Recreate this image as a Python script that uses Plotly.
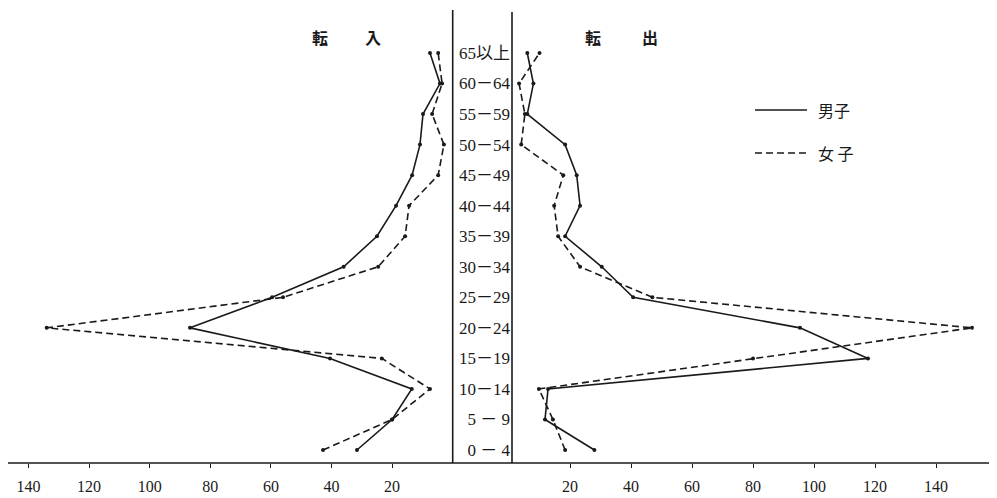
import plotly.graph_objects as go

ages = ["0 － 4", "5 － 9", "10－14", "15－19", "20－24", "25－29", "30－34",
        "35－39", "40－44", "45－49", "50－54", "55－59", "60－64", "65以上"]
in_male = [31.6, 20, 13.5, 40.5, 86.7, 59.6, 36, 25, 18.7, 13.4, 10.8, 9.8, 4.2, 7.5]
in_female = [42.8, 20, 7.5, 23.4, 134, 56, 24.6, 15.7, 14.4, 4.8, 2.9, 6.8, 3.5, 4.8]
out_male = [28, 11.8, 12.8, 117.7, 95.4, 40.7, 30.4, 18.4, 23.3, 22.2, 18.4, 6, 8, 6]
out_female = [18.4, 14.4, 9.8, 80, 151.8, 47, 23.3, 16.1, 14.8, 17.8, 4, 5.2, 3.3, 10]
xticks = [20, 40, 60, 80, 100, 120, 140]

INK = "#1a1a1a"
OFF = 8                      # page body margin of the html page
W, H = 997 - OFF, 498 - OFF  # figure size
BOTTOM = 463                 # reference y of the bottom axis line
PLOT_H = BOTTOM - OFF


def px(xr):
    return (xr - OFF) / W


def py(yr):
    return 1 - (yr - OFF) / PLOT_H


male_line = dict(color=INK, width=1.6)
female_line = dict(color=INK, width=1.6, dash="7px,4px")
mk = dict(color=INK, size=4)

fig = go.Figure()
fig.add_trace(go.Scatter(x=in_male, y=ages, xaxis="x", yaxis="y", mode="lines+markers",
                         line=male_line, marker=mk, name="男子", showlegend=False))
fig.add_trace(go.Scatter(x=in_female, y=ages, xaxis="x", yaxis="y", mode="lines+markers",
                         line=female_line, marker=mk, name="女子", showlegend=False))
fig.add_trace(go.Scatter(x=out_male, y=ages, xaxis="x2", yaxis="y", mode="lines+markers",
                         line=male_line, marker=mk, name="男子", showlegend=False))
fig.add_trace(go.Scatter(x=out_female, y=ages, xaxis="x2", yaxis="y", mode="lines+markers",
                         line=female_line, marker=mk, name="女子", showlegend=False))

tickfont = dict(family="Liberation Serif, Noto Sans CJK JP", size=16, color=INK)
left_zero = 452.7
right_zero = 509.0
px_left = 3.03
px_right = 3.05
row_top, row_gap = 53, 30.54

axis_common = dict(tickvals=xticks, ticktext=[str(v) for v in xticks], ticks="outside",
                   ticklen=4, tickcolor=INK, tickwidth=1.2, showline=False,
                   ticklabelstandoff=5,
                   showgrid=False, zeroline=False, tickfont=tickfont, anchor="y")

fig.update_layout(
    width=W, height=H,
    margin=dict(l=0, r=0, t=0, b=H - PLOT_H),
    paper_bgcolor="white", plot_bgcolor="rgba(0,0,0,0)",
    showlegend=False,
    xaxis=dict(domain=[0, px(left_zero)], range=[(left_zero - OFF) / px_left, 0], **axis_common),
    xaxis2=dict(domain=[px(right_zero), 1], range=[0, (997 - right_zero) / px_right], **axis_common),
    yaxis=dict(type="category", categoryorder="array", categoryarray=ages,
               range=[-(BOTTOM - (row_top + 13 * row_gap)) / row_gap,
                      13 + (row_top - OFF) / row_gap],
               anchor="free", position=px(512), side="left",
               showline=False, showgrid=False, zeroline=False, ticks="",
               ticklabelstandoff=2,
               tickfont=dict(family="Liberation Serif, Noto Sans CJK JP", size=17, color=INK)),
)

shapes = [
    dict(type="line", xref="paper", yref="paper", x0=0, x1=1, y0=0, y1=0,
         line=dict(color=INK, width=1.6)),
    dict(type="line", xref="paper", yref="paper", x0=px(left_zero), x1=px(left_zero),
         y0=0, y1=py(10), line=dict(color=INK, width=1.6)),
    dict(type="line", xref="paper", yref="paper", x0=px(512), x1=px(512),
         y0=0, y1=py(12), line=dict(color=INK, width=1.6)),
    dict(type="line", xref="paper", yref="paper", x0=px(755), x1=px(807),
         y0=py(110), y1=py(110), line=dict(color=INK, width=1.6)),
    dict(type="line", xref="paper", yref="paper", x0=px(755), x1=px(807),
         y0=py(153), y1=py(153), line=dict(color=INK, width=1.6, dash="7px,4px")),
]
fig.update_layout(shapes=shapes)

title_font = dict(family="Noto Sans CJK JP", size=16, color=INK, weight="bold")
legend_font = dict(family="Noto Sans CJK JP", size=16, color=INK)
annots = []
for txt, xc in [("転", 320), ("入", 373), ("転", 593), ("出", 650)]:
    annots.append(dict(text=txt, x=px(xc), y=py(37), xref="paper", yref="paper",
                       xanchor="center", yanchor="middle", showarrow=False, font=title_font))
annots.append(dict(text="男子", x=px(816), y=py(110), xref="paper", yref="paper",
                   xanchor="left", yanchor="middle", showarrow=False, font=legend_font))
annots.append(dict(text="女 子", x=px(816), y=py(153), xref="paper", yref="paper",
                   xanchor="left", yanchor="middle", showarrow=False, font=legend_font))
fig.update_layout(annotations=annots)

fig.write_html("out.html")
